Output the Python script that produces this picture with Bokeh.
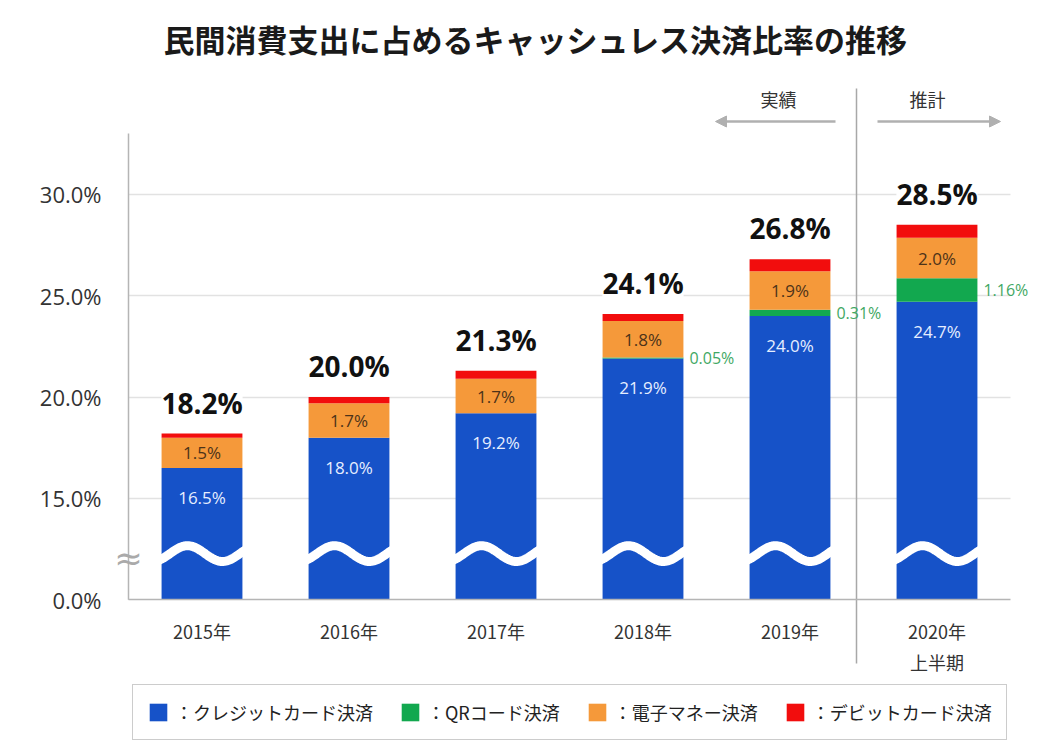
import numpy as np
import pandas as pd
from bokeh.plotting import figure
from bokeh.models import (ColumnDataSource, Range1d, FixedTicker, LabelSet, Label,
                          Arrow, NormalHead, Legend, LegendItem, Grid)
from bokeh.core.properties import value
from bokeh.embed import file_html
from bokeh.resources import INLINE

# ---------------- data ----------------
categories = ["2015年", "2016年", "2017年", "2018年", "2019年", "2020年\n上半期"]
credit = [16.5, 18.0, 19.2, 21.9, 24.0, 24.7]
qr = [0.0, 0.0, 0.0, 0.05, 0.31, 1.16]
emoney = [1.5, 1.7, 1.7, 1.8, 1.9, 2.0]
debit = [0.2, 0.3, 0.4, 0.35, 0.59, 0.64]
totals = [18.2, 20.0, 21.3, 24.1, 26.8, 28.5]
y_tick_values = [10.0, 15.0, 20.0, 25.0, 30.0]   # 10 = position of 0% after the axis break
y_tick_labels = ["0.0%", "15.0%", "20.0%", "25.0%", "30.0%"]
series_names = ["：クレジットカード決済", "：QRコード決済", "：電子マネー決済", "：デビットカード決済"]
series_colors = ["#1652c8", "#12a84f", "#f5993a", "#f20d0d"]
title_text = "民間消費支出に占めるキャッシュレス決済比率の推移"

BASE = 10.0          # where the (broken) axis shows 0.0%
AXIS_TOP = 33.0

# helpers converting reference pixel positions into data units (layout only)
def dx(px):
    return (px - 128.0) / 147.0

def dy(px):
    return 10.0 + (599.3 - px) / 20.27

JP = "Noto Sans CJK JP"
NUM = "Open Sans"
FRAME_LEFT = 112

# ---------------- table ----------------
df = pd.DataFrame(dict(cat=categories, credit=credit, qr=qr, emoney=emoney,
                       debit=debit, total=totals))
df["x"] = np.arange(len(df)) + 0.5
df["b0"] = BASE
df["t0"] = df["credit"]
df["b1"] = df["t0"]
df["t1"] = df["t0"] + df["qr"]
df["b2"] = df["t1"]
df["t2"] = df["t1"] + df["emoney"]
df["b3"] = df["t2"]
df["t3"] = df["t2"] + df["debit"]
src = ColumnDataSource(df)

p = figure(width=1040, height=742, output_backend="svg", toolbar_location=None,
           x_range=Range1d(dx(FRAME_LEFT), dx(1032)), y_range=Range1d(dy(742), dy(0)),
           min_border_left=FRAME_LEFT, min_border_right=8, min_border_top=0, min_border_bottom=0)
p.outline_line_color = None
p.background_fill_color = "white"

# grid
p.xgrid.visible = False
p.ygrid.ticker = FixedTicker(ticks=y_tick_values[1:])
p.ygrid.grid_line_color = "#e2e2e2"
p.ygrid.grid_line_width = 1.5
if "cross_bounds" in Grid.properties():
    p.ygrid.cross_bounds = (0, len(categories))

# y axis line (the frame starts a little left of it to leave room for the break mark)
p.segment(x0=[0], y0=[BASE], x1=[0], y1=[AXIS_TOP], line_color="#b5b5b5", line_width=1.5)

# bars
bar_w = 0.55
renderers = []
for i, col in enumerate(series_colors):
    r = p.vbar(x="x", bottom="b%d" % i, top="t%d" % i, width=bar_w, source=src,
               fill_color=col, line_color=None)
    renderers.append(r)

# broken-axis wave across bars
wave_xs, wave_ys = [], []
t = np.linspace(-0.31, 0.31, 80)
for xc in df["x"]:
    wave_xs.append(list(xc + t))
    wave_ys.append(list(12.28 + 0.39 * np.cos(2 * np.pi * (t + 0.0986) / 0.476)))
p.multi_line(xs=wave_xs, ys=wave_ys, line_color="white", line_width=9, line_cap="butt")

# axis break mark
p.text(x=[0], y=[dy(557)], text=["≈"], text_align="center", text_baseline="middle",
       text_font=value("DejaVu Sans"), text_font_size="34px", text_color="#aaaaaa")

# axes
yax = p.yaxis[0]
yax.ticker = FixedTicker(ticks=y_tick_values)
yax.major_label_overrides = {v: l for v, l in zip(y_tick_values, y_tick_labels)}
yax.bounds = (BASE, AXIS_TOP)
yax.axis_line_color = None
yax.major_tick_line_color = None
yax.minor_tick_line_color = None
yax.major_label_standoff = 5
yax.major_label_text_font = NUM
yax.major_label_text_font_size = "22px"
yax.major_label_text_color = "#333333"

xax = p.xaxis[0]
xax.ticker = FixedTicker(ticks=list(df["x"]))
xax.major_label_overrides = {float(v): c for v, c in zip(df["x"], categories)}
xax.fixed_location = BASE
xax.bounds = (0, len(categories))
xax.axis_line_color = "#b5b5b5"
xax.axis_line_width = 1.5
xax.major_tick_line_color = None
xax.minor_tick_line_color = None
xax.major_label_standoff = 12
xax.major_label_text_font = JP
xax.major_label_text_font_size = "18px"
xax.major_label_text_color = "#333333"

# labels
tot_src = ColumnDataSource(dict(x=df["x"], y=df["t3"], text=["%.1f%%" % v for v in totals]))
tot = LabelSet(x="x", y="y", text="text", source=tot_src, text_align="center",
               text_baseline="bottom", y_offset=12, text_font=value(NUM),
               text_font_size="28px", text_font_style="bold", text_color="#111111",
               background_fill_color="white")
if "padding" in LabelSet.properties():
    tot.padding = 6
p.add_layout(tot)

blue_src = ColumnDataSource(dict(x=df["x"], y=df["t0"] - 1.45, text=["%.1f%%" % v for v in credit]))
p.add_layout(LabelSet(x="x", y="y", text="text", source=blue_src, text_align="center",
                      text_baseline="middle", text_font=value(NUM), text_font_size="17px",
                      text_color="#e6eeff"))

or_src = ColumnDataSource(dict(x=df["x"], y=(df["b2"] + df["t2"]) / 2, text=["%.1f%%" % v for v in emoney]))
p.add_layout(LabelSet(x="x", y="y", text="text", source=or_src, text_align="center",
                      text_baseline="middle", text_font=value(NUM), text_font_size="17px",
                      text_color="#4d3319"))

qdf = df[df["qr"] > 0]
qr_src = ColumnDataSource(dict(x=qdf["x"] + bar_w / 2, y=(qdf["b1"] + qdf["t1"]) / 2,
                               text=["%.2f%%" % v for v in qdf["qr"]]))
p.add_layout(LabelSet(x="x", y="y", text="text", source=qr_src, text_align="left",
                      text_baseline="middle", x_offset=6, text_font=value(NUM),
                      text_font_size="16px", text_color="#3fa864"))

# divider between actual and estimate
p.segment(x0=[dx(856)], y0=[dy(88)], x1=[dx(856)], y1=[dy(663)],
          line_color="#a8a8a8", line_width=1.5)

arrow_col = "#b0b0b0"
p.add_layout(Arrow(end=NormalHead(size=11, fill_color=arrow_col, line_color=arrow_col),
                   x_start=dx(835), y_start=dy(121), x_end=dx(715), y_end=dy(121),
                   line_color=arrow_col, line_width=2.5))
p.add_layout(Arrow(end=NormalHead(size=11, fill_color=arrow_col, line_color=arrow_col),
                   x_start=dx(877), y_start=dy(121), x_end=dx(1000), y_end=dy(121),
                   line_color=arrow_col, line_width=2.5))
p.add_layout(Label(x=dx(778), y=dy(98), text="実績", text_align="center", text_baseline="middle",
                   text_font=JP, text_font_size="18px", text_color="#333333"))
p.add_layout(Label(x=dx(927), y=dy(98), text="推計", text_align="center", text_baseline="middle",
                   text_font=JP, text_font_size="18px", text_color="#333333"))

# title
p.add_layout(Label(x=dx(535), y=dy(38), text=title_text, text_align="center",
                   text_baseline="middle", text_font=JP, text_font_size="31px",
                   text_font_style="bold", text_color="#1a1a1a"))

# legend
legend = Legend(items=[LegendItem(label=n, renderers=[r]) for n, r in zip(series_names, renderers)],
                orientation="horizontal", location=(4 + 128 - FRAME_LEFT, 2), margin=0, padding=14,
                spacing=26, glyph_width=22, glyph_height=22, label_standoff=6,
                label_text_font=JP, label_text_font_size="18px", label_text_color="#222222",
                border_line_color="#999999", border_line_width=1.5,
                background_fill_color="white", background_fill_alpha=1.0)
p.add_layout(legend)

open("out.html", "w").write(file_html(p, INLINE))
